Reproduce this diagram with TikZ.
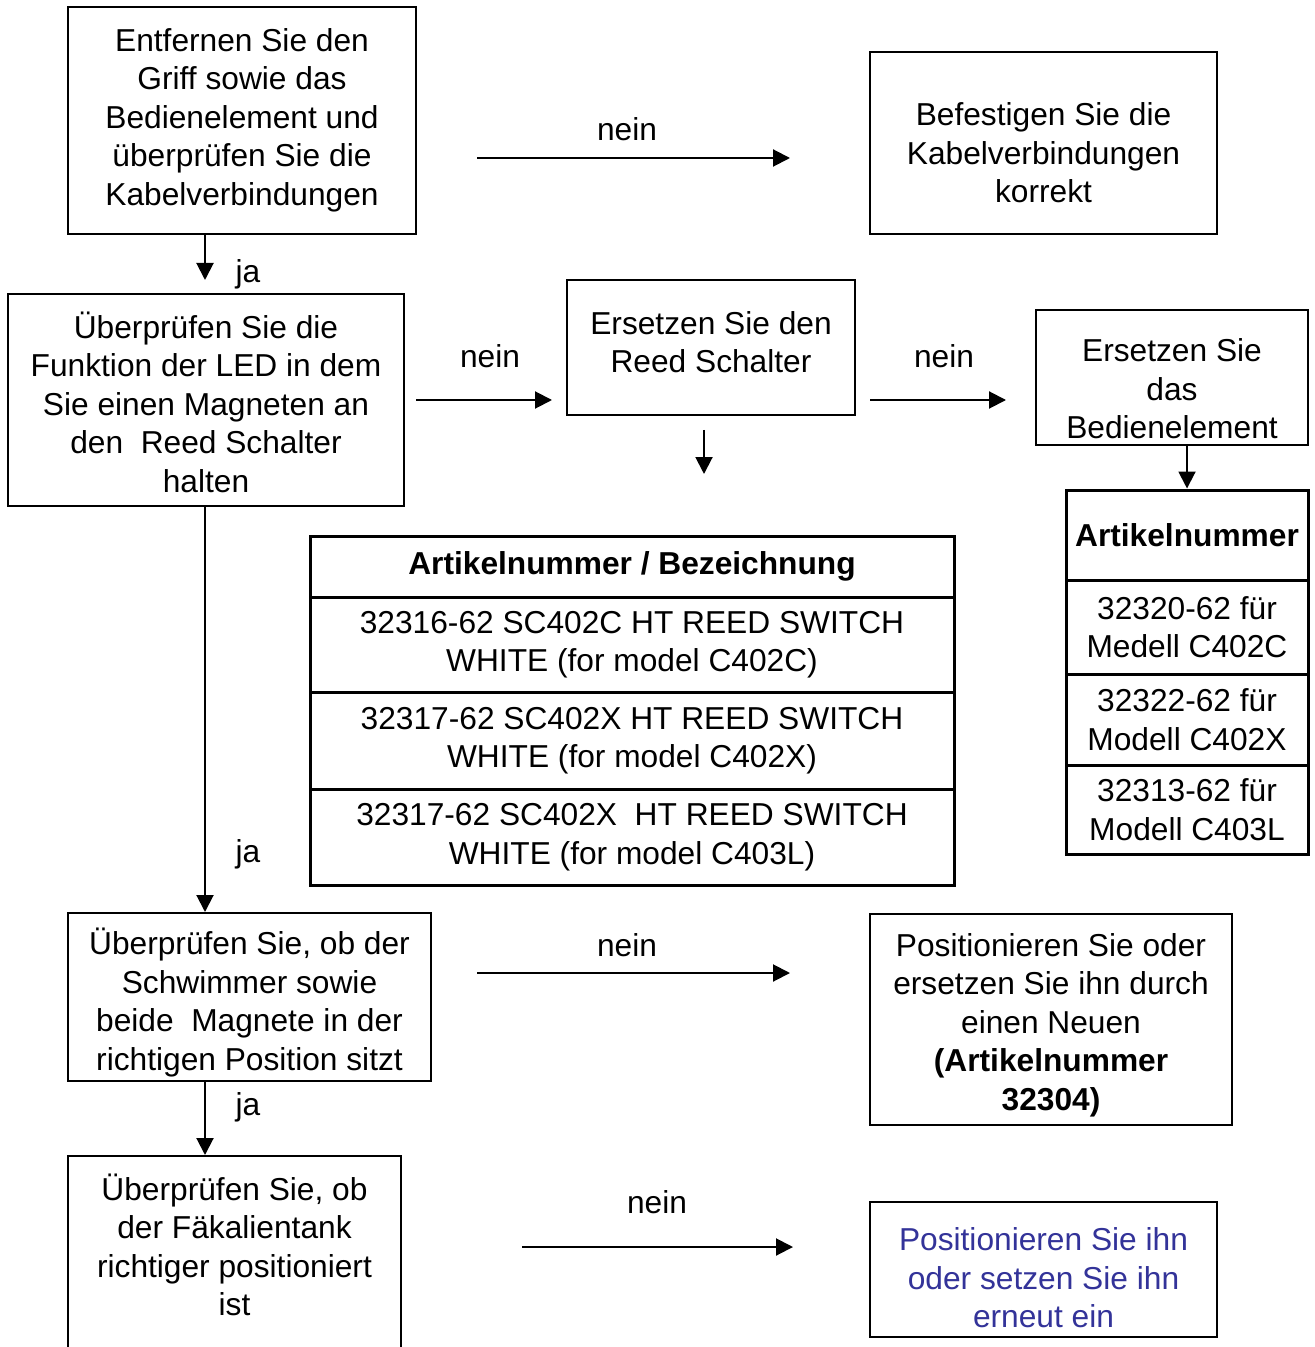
\documentclass[tikz,border=0pt]{standalone}
\usepackage{fontspec}
\setmainfont{Liberation Sans}
\usetikzlibrary{arrows.meta}
\definecolor{textblue}{RGB}{51,51,153}
\newcommand\chartfont{\fontsize{15.85}{19.25}\selectfont}
\tikzset{
  box/.style={draw, line width=1pt, inner sep=0pt},
  txt/.style={align=center, inner sep=0pt, font=\chartfont, yshift=-1.5pt},
  row/.style={draw, line width=1.5pt, inner sep=0pt, align=center, font=\chartfont, minimum width=322pt},
  rrow/.style={draw, line width=1.5pt, inner sep=0pt, align=center, font=\chartfont, minimum width=121pt},
  arr/.style={line width=1pt, -{Triangle[length=8.5pt,width=8.5pt]}}
}
\begin{document}
\begin{tikzpicture}[x=0.5pt, y=-0.5pt]
\useasboundingbox (0,0) rectangle (1314,1347);
\clip (0,0) rectangle (1314,1347);
\fill[white] (0,0) rectangle (1314,1347);
\draw(242,120.5) node[box, minimum width=174pt, minimum height=113.5pt] (A) {};
\draw(242,117) node[txt] (tA) {Entfernen Sie den\\Griff sowie das\\Bedienelement und\\überprüfen Sie die\\Kabelverbindungen};
\draw(1043.5,143) node[box, minimum width=173.5pt, minimum height=91pt] (B) {};
\draw(1043.5,150) node[txt] (tB) {Befestigen Sie die\\Kabelverbindungen\\korrekt};
\draw(206,400) node[box, minimum width=198pt, minimum height=106pt] (C) {};
\draw(206,399) node[txt] (tC) {Überprüfen Sie die\\Funktion der LED in dem\\Sie einen Magneten an\\den\ \ Reed Schalter\\halten};
\draw(711,347.5) node[box, minimum width=144pt, minimum height=67.5pt] (D) {};
\draw(711,339) node[txt] (tD) {Ersetzen Sie den\\Reed Schalter};
\draw(1172,377.5) node[box, minimum width=136pt, minimum height=67.5pt] (E) {};
\draw(1172,386) node[txt] (tE) {Ersetzen Sie\\das\\Bedienelement};
\draw(249.5,997) node[box, minimum width=181.5pt, minimum height=84pt] (H) {};
\draw(249.5,999.5) node[txt] (tH) {Überprüfen Sie, ob der\\Schwimmer sowie\\beide\ \ Magnete in der\\richtigen Position sitzt};
\draw(1051,1019.5) node[box, minimum width=181pt, minimum height=105.5pt] (I) {};
\draw(1051,1022) node[txt] (tI) {Positionieren Sie oder\\ersetzen Sie ihn durch\\einen Neuen\\\textbf{(Artikelnummer}\\\textbf{32304)}};
\draw(234.5,1278) node[box, minimum width=166.5pt, minimum height=122pt] (J) {};
\draw(234.5,1242) node[txt] (tJ) {Überprüfen Sie, ob\\der Fäkalientank\\richtiger positioniert\\ist};
\draw(1043.5,1269.5) node[box, minimum width=173.5pt, minimum height=67.5pt] (K) {};
\draw(1043.5,1275) node[txt, text=textblue] (tK) {Positionieren Sie ihn\\oder setzen Sie ihn\\erneut ein};
\draw(632,566.5) node[row, minimum height=30.5pt] (G0) {\textbf{Artikelnummer / Bezeichnung}};
\draw(632,644.5) node[row, minimum height=47.5pt] (G1) {32316-62 SC402C HT REED SWITCH\\WHITE (for model C402C)};
\draw(632,740.5) node[row, minimum height=48.5pt] (G2) {32317-62 SC402X HT REED SWITCH\\WHITE (for model C402X)};
\draw(632,837) node[row, minimum height=48pt] (G3) {32317-62 SC402X\ \ HT REED SWITCH\\WHITE (for model C403L)};
\draw(1187,535) node[rrow, minimum height=45pt] (F0) {\textbf{Artikelnummer}};
\draw(1187,627) node[rrow, minimum height=47pt] (F1) {32320-62 für\\Medell C402C};
\draw(1187,719.5) node[rrow, minimum height=45.5pt] (F2) {32322-62 für\\Modell C402X};
\draw(1187,809.5) node[rrow, minimum height=44.5pt] (F3) {32313-62 für\\Modell C403L};
\coordinate (ab1) at (477,158); \coordinate (ab2) at (790,158);
\draw[arr] (ab1) -- (ab2);
\draw(627,126) node[txt] (n1) {nein};
\coordinate (ac) at (205,280);
\draw[arr] (ac |- A.south) -- (ac);
\draw(248,271) node[txt] (j1) {ja};
\coordinate (cd1) at (416,400); \coordinate (cd2) at (552,400);
\draw[arr] (cd1) -- (cd2);
\draw(490,353) node[txt] (n2) {nein};
\coordinate (de1) at (870,400); \coordinate (de2) at (1006,400);
\draw[arr] (de1) -- (de2);
\draw(944,353) node[txt] (n3) {nein};
\coordinate (dg1) at (704,430); \coordinate (dg2) at (704,474);
\draw[arr] (dg1) -- (dg2);
\draw[arr] (F0.north |- E.south) -- (F0.north);
\draw[arr] (ac |- C.south) -- (ac |- H.north);
\draw(248,851) node[txt] (j2) {ja};
\coordinate (hi1) at (477,973); \coordinate (hi2) at (790,973);
\draw[arr] (hi1) -- (hi2);
\draw(627,942) node[txt] (n4) {nein};
\draw[arr] (ac |- H.south) -- (ac |- J.north);
\draw(248,1104) node[txt] (j3) {ja};
\coordinate (jk1) at (522,1247); \coordinate (jk2) at (793,1247);
\draw[arr] (jk1) -- (jk2);
\draw(657,1199) node[txt] (n5) {nein};
\end{tikzpicture}
\end{document}
